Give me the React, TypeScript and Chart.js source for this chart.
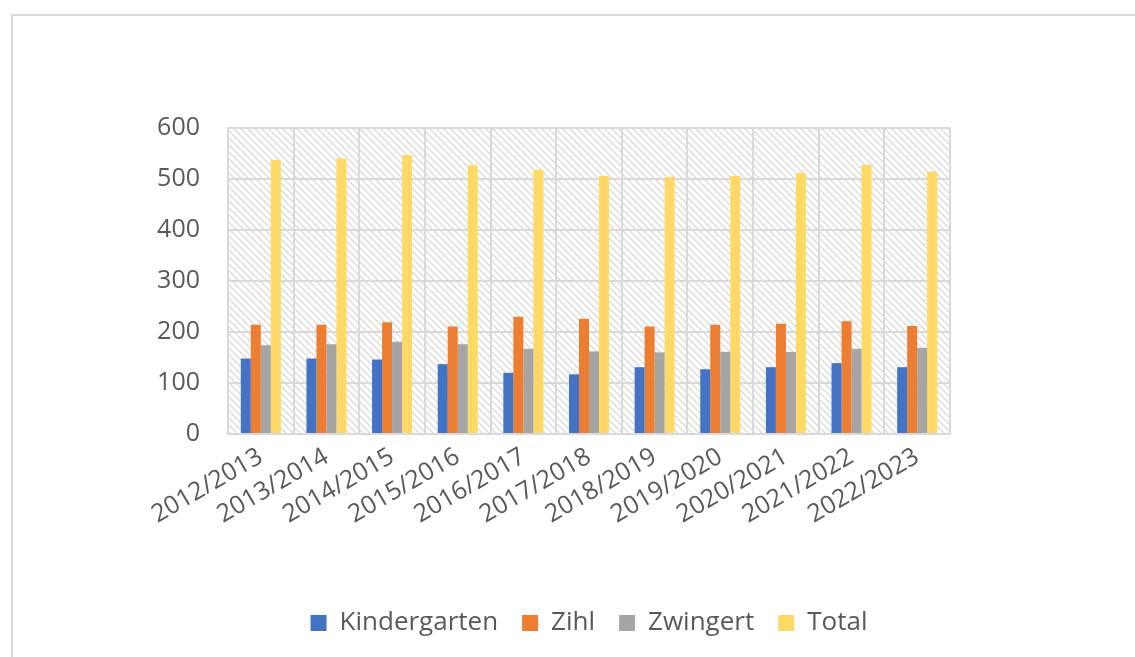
import React, { useEffect, useRef } from "react";
import { Chart, registerables } from "chart.js";

Chart.register(...registerables);

const categories = [
  "2012/2013", "2013/2014", "2014/2015", "2015/2016", "2016/2017", "2017/2018",
  "2018/2019", "2019/2020", "2020/2021", "2021/2022", "2022/2023",
];
const kindergarten = [148, 148, 146, 137, 120, 117, 131, 127, 131, 139, 131];
const zihl = [214, 214, 219, 211, 230, 226, 211, 214, 216, 221, 212];
const zwingert = [174, 176, 181, 176, 167, 162, 160, 161, 161, 167, 169];
const total = [537, 540, 547, 527, 518, 506, 504, 506, 512, 528, 514];
const yTicks = [0, 100, 200, 300, 400, 500, 600];

const FONT = "'Open Sans', 'Liberation Sans', sans-serif";
const TEXT = "#595959";
const GRID = "#d9d9d9";

function makePattern(ctx: CanvasRenderingContext2D) {
  const n = 7;
  const c = document.createElement("canvas");
  c.width = n;
  c.height = n;
  const p = c.getContext("2d")!;
  p.fillStyle = "#ffffff";
  p.fillRect(0, 0, n, n);
  p.strokeStyle = "#dadada";
  p.lineWidth = 1.3;
  p.beginPath();
  p.moveTo(-2, -2);
  p.lineTo(n + 2, n + 2);
  p.moveTo(-2, n - 2);
  p.lineTo(2, n + 2);
  p.moveTo(n - 2, -2);
  p.lineTo(n + 2, 2);
  p.stroke();
  return ctx.createPattern(c, "repeat")!;
}

const hatchPlugin = {
  id: "hatch",
  beforeDraw(chart: any) {
    const { ctx, chartArea } = chart;
    ctx.save();
    ctx.fillStyle = makePattern(ctx);
    ctx.fillRect(chartArea.left, chartArea.top, chartArea.right - chartArea.left, chartArea.bottom - chartArea.top);
    ctx.strokeStyle = GRID;
    ctx.lineWidth = 2;
    ctx.strokeRect(12, 15, 3000, 3000);
    ctx.restore();
  },
};

export default function App() {
  const ref = useRef<HTMLCanvasElement>(null);
  useEffect(() => {
    const chart = new Chart(ref.current!, {
      type: "bar",
      data: {
        labels: categories,
        datasets: [
          { label: "Kindergarten", data: kindergarten, backgroundColor: "#4472C4" },
          { label: "Zihl", data: zihl, backgroundColor: "#ED7D31" },
          { label: "Zwingert", data: zwingert, backgroundColor: "#A5A5A5" },
          { label: "Total", data: total, backgroundColor: "#FFD966" },
        ],
      },
      options: {
        animation: false,
        responsive: false,
        layout: { padding: { left: 0, right: 185, top: 128, bottom: 54 } },
        datasets: { bar: { barPercentage: 1, categoryPercentage: 0.61 } },
        plugins: {
          tooltip: { enabled: false },
          legend: {
            position: "bottom",
            fullSize: false,
            labels: {
              boxWidth: 16,
              boxHeight: 16,
              padding: 24,
              color: TEXT,
              font: { family: FONT, size: 26 },
            },
          },
        },
        scales: {
          x: {
            afterFit: (s: any) => { s.height = 152; },
            grid: { color: GRID, lineWidth: 2, drawTicks: false, offset: true },
            border: { color: GRID, width: 2 },
            ticks: {
              autoSkip: false,
              minRotation: 30,
              maxRotation: 30,
              padding: 8,
              color: TEXT,
              font: { family: FONT, size: 25 },
            },
          },
          y: {
            min: yTicks[0],
            max: yTicks[yTicks.length - 1],
            afterFit: (s: any) => { s.width = 228; },
            grid: { color: GRID, lineWidth: 2, drawTicks: false },
            border: { color: GRID, width: 2 },
            ticks: {
              stepSize: yTicks[1] - yTicks[0],
              padding: 28,
              color: TEXT,
              font: { family: FONT, size: 25 },
            },
          },
        },
      },
      plugins: [hatchPlugin],
    });
    return () => chart.destroy();
  }, []);
  return (
    <div style={{ position: "fixed", left: 0, top: 0, width: 1135, height: 657, overflow: "hidden", background: "#fff" }}>
      <canvas ref={ref} width={1135} height={700} style={{ display: "block", width: 1135, height: 700 }} />
    </div>
  );
}
